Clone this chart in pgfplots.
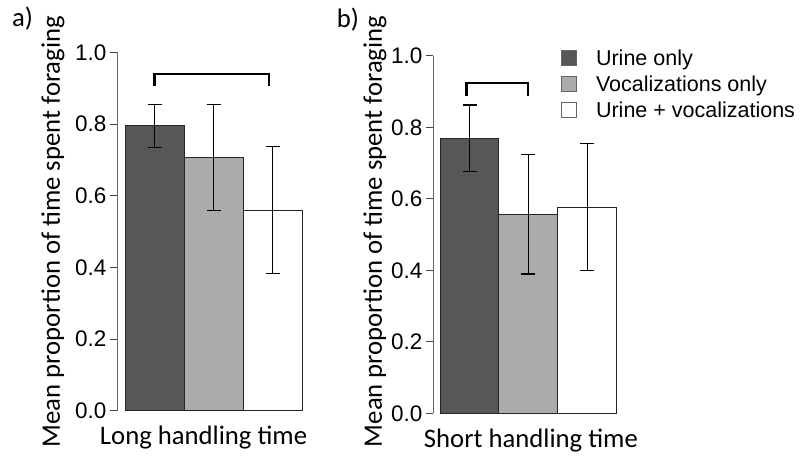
\documentclass[border=0pt]{standalone}
\usepackage{fontspec}
\setmainfont{Carlito}
\newfontfamily\arial{Liberation Sans}
\usepackage{pgfplots}
\pgfplotsset{compat=1.18}

\definecolor{darkbar}{HTML}{575757}
\definecolor{midbar}{HTML}{ABABAB}

\pgfplotsset{
  panel/.style={
    scale only axis,
    ybar, bar shift=0pt,
    ymin=0, ymax=1, enlargelimits=false,
    axis y line=left, axis x line=bottom,
    x axis line style={draw=none},
    y axis line style={-, draw=black!60, line width=1bp},
    xtick=\empty,
    ytick={0,0.2,0.4,0.6,0.8,1.0},
    yticklabels={0.0,0.2,0.4,0.6,0.8,1.0},
    tick align=outside,
    major tick length=7bp,
    ytick style={draw=black!75, line width=1bp},
    yticklabel style={font=\arial\fontsize{22.5bp}{26bp}\selectfont},
    label style={font=\fontsize{26.7bp}{32bp}\selectfont},
    error bars/error bar style={black, line width=1.2bp},
    error bars/error mark options={black, rotate=90, mark size=7bp, line width=1.2bp},
    clip=false,
  },
  barA/.style={fill=darkbar, draw=black!85, line width=1bp},
  barB/.style={fill=midbar, draw=black!85, line width=1bp},
  barC/.style={fill=white, draw=black!85, line width=1bp},
}

\begin{document}
\begin{tikzpicture}
\path[use as bounding box] (0,0) rectangle (800bp,457bp);

% panel a: long handling time
\begin{axis}[panel,
  at={(117bp,46.3bp)}, anchor=south west,
  width=185bp, height=358.2bp,
  xmin=-0.636, xmax=2.5, bar width=59bp,
  ylabel={Mean proportion of time spent foraging},
  ylabel style={at={(axis description cs:-0.346,0.5)}, anchor=center},
  xlabel={Long handling time},
  xlabel style={at={(axis description cs:0.468,0)}, anchor=base, yshift=-34.3bp},
]
\addplot[barA, error bars/.cd, y dir=both, y explicit] coordinates {(0,0.795) +- (0,0.060)};
\addplot[barB, error bars/.cd, y dir=both, y explicit] coordinates {(1,0.707) +- (0,0.147)};
\addplot[barC, error bars/.cd, y dir=both, y explicit] coordinates {(2,0.560) +- (0,0.177)};
\draw[black, line width=2.2bp] (axis cs:0,0.907) -- (axis cs:0,0.94) -- (axis cs:1.94,0.94) -- (axis cs:1.94,0.907);
\end{axis}

% panel b: short handling time
\begin{axis}[panel,
  at={(433bp,43.7bp)}, anchor=south west,
  width=183.7bp, height=357.3bp,
  xmin=-0.62, xmax=2.5, bar width=58.9bp,
  ylabel={Mean proportion of time spent foraging},
  ylabel style={at={(axis description cs:-0.316,0.509)}, anchor=center},
  xlabel={Short handling time},
  xlabel style={at={(axis description cs:0.533,0)}, anchor=base, yshift=-34.3bp},
  legend cell align=left,
  legend image code/.code={\draw[#1, draw=black!60, line width=1bp] (0bp,-4.8bp) rectangle (15bp,9.8bp);},
  legend style={draw=none, fill=none, inner sep=0pt, outer sep=0pt,
    at={(axis description cs:0.697,1.0176)}, anchor=north west,
    font=\arial\fontsize{21.5bp}{26bp}\selectfont,
    nodes={inner sep=0pt, text height=16bp, text depth=5bp},
    row sep=5bp, column sep=19bp},
]
\addplot[barA, error bars/.cd, y dir=both, y explicit] coordinates {(0,0.770) +- (0,0.093)};
\addlegendentry{Urine only}
\addplot[barB, error bars/.cd, y dir=both, y explicit] coordinates {(1,0.557) +- (0,0.167)};
\addlegendentry{Vocalizations only}
\addplot[barC, error bars/.cd, y dir=both, y explicit] coordinates {(2,0.577) +- (0,0.178)};
\addlegendentry{Urine + vocalizations}
\draw[black, line width=2.2bp] (axis cs:-0.05,0.889) -- (axis cs:-0.05,0.925) -- (axis cs:0.99,0.925) -- (axis cs:0.99,0.889);
\end{axis}

\node[anchor=base west, inner sep=0pt, font=\fontsize{26.7bp}{32bp}\selectfont] at (12bp,430bp) {a)};
\node[anchor=base west, inner sep=0pt, font=\fontsize{26.7bp}{32bp}\selectfont] at (336.7bp,429bp) {b)};
\end{tikzpicture}
\end{document}
